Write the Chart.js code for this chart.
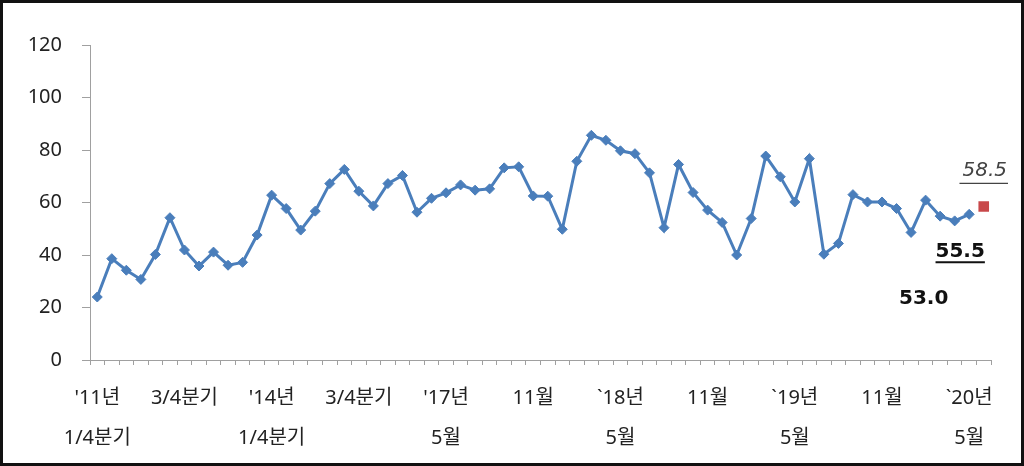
<!DOCTYPE html>
<html lang="ko">

<head>
    <meta charset="utf-8">
    <title>추이</title>
    <script src="https://cdn.jsdelivr.net/npm/chart.js"></script>
    <style>
        body {
            margin: 0;
            padding: 0;
            background-color: #fff;
        }

        .frame {
            width: 1024px;
            height: 466px;
            box-sizing: border-box;
            border: 3px solid #111;
            background: #fff;
        }

        canvas {
            display: block;
        }
    </style>
</head>

<body>
    <div class="frame">
        <canvas id="trend" width="1018" height="460"></canvas>
    </div>

    <script>
        // quarterly '11 Q1 ~ '16 Q4, then monthly '17.5 ~ '20.5, last = forecast
        const values = [
            24.0, 38.6, 34.2, 30.7, 40.2, 54.2, 41.9, 35.8, 41.1, 36.1, 37.2, 47.6,
            62.8, 57.7, 49.5, 56.7, 67.2, 72.6, 64.3, 58.7, 67.2, 70.3, 56.3, 61.6,
            63.7, 66.7, 64.7, 65.2, 73.2, 73.6, 62.5, 62.4, 49.8, 75.7, 85.6, 83.7,
            79.7, 78.6, 71.3, 50.4, 74.5, 63.8, 57.1, 52.4, 40.0, 53.9, 77.7, 69.8,
            60.2, 76.7, 40.3, 44.4, 63.0, 60.2, 60.2, 57.7, 48.6, 60.9, 54.8, 53.0,
            55.5
        ];
        const forecast = 58.5;

        // tick labels shown every 6th point
        const tickRow1 = ["'11년", "3/4분기", "'14년", "3/4분기", "'17년", "11월", "`18년", "11월", "`19년", "11월", "`20년"];
        const tickRow2 = ["1/4분기", "", "1/4분기", "", "5월", "", "5월", "", "5월", "", "5월"];
        const yTicks = [0, 20, 40, 60, 80, 100, 120];

        const total = values.length + 1;
        const labels = [];
        for (let i = 0; i < total; i++) {
            if (i % 6 === 0 && tickRow1[i / 6] !== undefined) {
                const k = i / 6;
                labels.push(tickRow2[k] ? [tickRow1[k], tickRow2[k]] : [tickRow1[k]]);
            } else {
                labels.push('');
            }
        }
        const mainData = values.concat([null]);
        const forecastData = values.map(() => null).concat([forecast]);

        const axisFont = '"Noto Sans", "Noto Sans CJK KR", sans-serif';

        // value notes at the end of the line
        const notes = {
            id: 'notes',
            afterDatasetsDraw(chart) {
                const ctx = chart.ctx;
                const x = chart.scales.x, y = chart.scales.y;
                const n = values.length;
                ctx.save();
                ctx.textAlign = 'center';
                ctx.textBaseline = 'middle';

                // forecast, italic + underline
                let px = x.getPixelForValue(n) + 1, py = y.getPixelForValue(forecast) - 36;
                ctx.font = 'italic 200 20px "DejaVu Sans"';
                ctx.fillStyle = '#444';
                ctx.fillText(forecast.toFixed(1), px, py);
                let w = ctx.measureText(forecast.toFixed(1)).width;
                ctx.strokeStyle = '#444';
                ctx.lineWidth = 1.2;
                ctx.beginPath();
                ctx.moveTo(px - w / 2 - 3, py + 13);
                ctx.lineTo(px + w / 2 + 1, py + 13);
                ctx.stroke();

                // latest, bold + underline
                px = x.getPixelForValue(n - 1) - 9;
                py = y.getPixelForValue(values[n - 1]) + 37;
                ctx.font = 'bold 20px "DejaVu Sans"';
                ctx.fillStyle = '#111';
                ctx.fillText(values[n - 1].toFixed(1), px, py);
                w = ctx.measureText(values[n - 1].toFixed(1)).width;
                ctx.strokeStyle = '#111';
                ctx.lineWidth = 2;
                ctx.beginPath();
                ctx.moveTo(px - w / 2, py + 11);
                ctx.lineTo(px + w / 2, py + 11);
                ctx.stroke();

                // previous month
                px = x.getPixelForValue(n - 2) - 31;
                py = y.getPixelForValue(values[n - 2]) + 78;
                ctx.fillText(values[n - 2].toFixed(1), px, py);
                ctx.restore();
            }
        };

        const ctx = document.getElementById('trend').getContext('2d');
        new Chart(ctx, {
            type: 'line',
            data: {
                labels: labels,
                datasets: [{
                    data: mainData,
                    borderColor: '#4a7ebb',
                    backgroundColor: '#4a7ebb',
                    borderWidth: 3,
                    pointStyle: 'rectRot',
                    pointRadius: 5,
                    pointBorderWidth: 1,
                    tension: 0,
                    spanGaps: false
                }, {
                    data: forecastData,
                    showLine: false,
                    pointStyle: 'rect',
                    pointRadius: 7.5,
                    pointBorderWidth: 0,
                    backgroundColor: '#c8484a',
                    borderColor: '#c8484a'
                }]
            },
            options: {
                responsive: false,
                animation: false,
                layout: {
                    padding: { left: 0, right: 30, top: 42, bottom: 0 }
                },
                plugins: {
                    legend: { display: false },
                    tooltip: { enabled: false }
                },
                scales: {
                    x: {
                        offset: true,
                        grid: {
                            offset: true,
                            drawOnChartArea: false,
                            tickLength: 5,
                            color: '#a0a0a0'
                        },
                        border: { color: '#a0a0a0', width: 1 },
                        ticks: {
                            autoSkip: false,
                            maxRotation: 0,
                            padding: 13,
                            color: '#222',
                            font: { family: axisFont, size: 20, lineHeight: 2 }
                        },
                        afterFit: (s) => { s.height = 103; }
                    },
                    y: {
                        min: 0,
                        max: 120,
                        afterBuildTicks: (s) => { s.ticks = yTicks.map(v => ({ value: v })); },
                        grid: {
                            drawOnChartArea: false,
                            tickLength: 8,
                            color: '#a0a0a0'
                        },
                        border: { color: '#a0a0a0', width: 1 },
                        ticks: {
                            padding: 20,
                            color: '#222',
                            font: { family: axisFont, size: 20 }
                        },
                        afterFit: (s) => { s.width = 87; }
                    }
                }
            },
            plugins: [notes]
        });
    </script>

</body>

</html>
